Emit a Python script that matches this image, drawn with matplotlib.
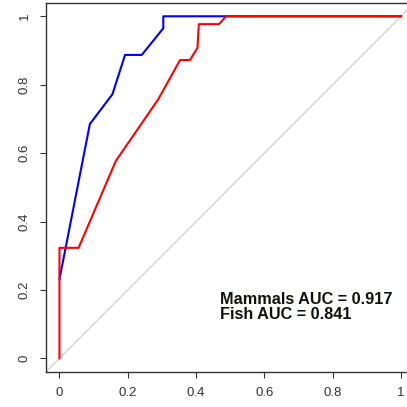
import matplotlib
matplotlib.use("Agg")
import matplotlib.pyplot as plt

# ROC curve points
mammal_fpr = [0.0, 0.089, 0.155, 0.192, 0.241, 0.304, 0.304, 1.0]
mammal_tpr = [0.231, 0.685, 0.772, 0.887, 0.887, 0.965, 1.0, 1.0]

fish_fpr = [0.0, 0.0, 0.056, 0.165, 0.289, 0.353, 0.382, 0.404, 0.408, 0.467, 0.488, 1.0]
fish_tpr = [0.0, 0.323, 0.323, 0.577, 0.757, 0.872, 0.872, 0.908, 0.977, 0.977, 1.0, 1.0]

ticks = [0, 0.2, 0.4, 0.6, 0.8, 1]
tick_labels = ["0", "0.2", "0.4", "0.6", "0.8", "1"]
auc_text = "Mammals AUC = 0.917\nFish AUC = 0.841"

plt.rcParams['font.family'] = ['Liberation Sans', 'DejaVu Sans']

fig = plt.figure(figsize=(4.07, 4.07), dpi=100)
ax = fig.add_axes([45.8/407, 35/407, 368.9/407, 369.4/407])

ax.axline((0, 0), (1, 1), color='#d3d3d3', linewidth=1.0)
ax.plot(mammal_fpr, mammal_tpr, color='blue', linewidth=1.5)
ax.plot(fish_fpr, fish_tpr, color='red', linewidth=1.5)

ax.set_xlim(-0.04, 1.04)
ax.set_ylim(-0.04, 1.04)
ax.set_xticks(ticks)
ax.set_xticklabels(tick_labels)
ax.set_yticks(ticks)
ax.set_yticklabels(tick_labels, rotation=90, va='center')
ax.tick_params(direction='out', length=4.3, width=0.8, colors='#333333',
               labelsize=9.5, pad=6.5)

for side in ['left', 'top', 'bottom', 'right']:
    ax.spines[side].set_color('#333333')
    ax.spines[side].set_linewidth(1.0)

ax.text(0.47, 0.15, auc_text, fontsize=11.7, fontweight='bold', color='#0a140a',
        va='center', ha='left', linespacing=1.05)

fig.savefig("out.png", dpi=100)
